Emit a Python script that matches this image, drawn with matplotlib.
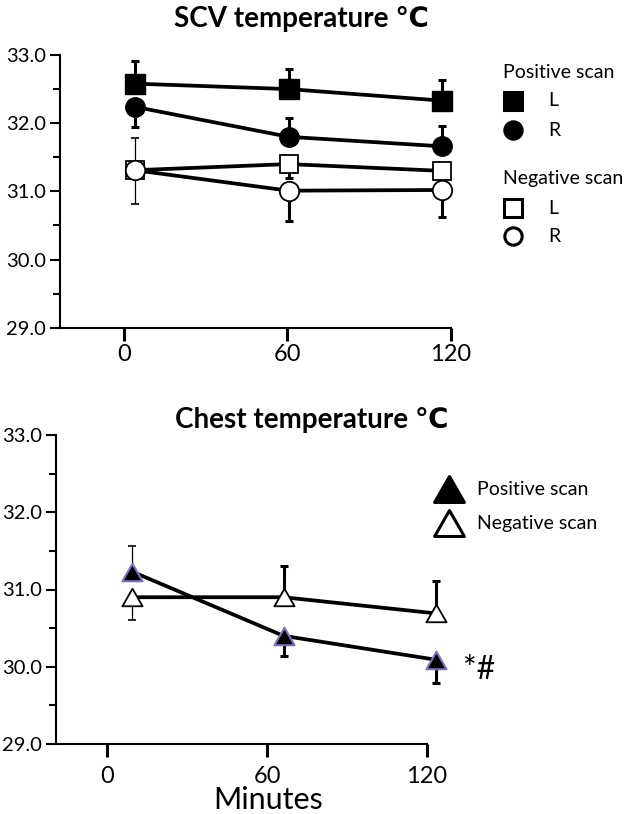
import numpy as np
import matplotlib
matplotlib.use('Agg')
import matplotlib.pyplot as plt
from matplotlib.lines import Line2D
from matplotlib.path import Path
from matplotlib.ticker import MultipleLocator, FormatStrFormatter

plt.rcParams['font.family'] = ['Lato', 'DejaVu Sans']

# ---- data ----
minutes_top = [4, 60.5, 117]
scv_pos_L = [32.58, 32.50, 32.33]
scv_pos_R = [32.24, 31.80, 31.66]
scv_neg_L = [31.31, 31.40, 31.30]
scv_neg_R = [31.31, 31.01, 31.02]
# error bars are one-sided in the original: (lower, upper)
scv_pos_L_err = [(0, 0.33), (0, 0.29), (0, 0.30)]
scv_pos_R_err = [(0.29, 0), (0, 0.27), (0, 0.30)]
scv_neg_L_err = [(0, 0.47), (0.20, 0), (0.15, 0)]
scv_neg_R_err = [(0.49, 0), (0.45, 0), (0.39, 0)]

minutes_bottom = [9.4, 66.2, 123.6]
chest_pos = [31.23, 30.40, 30.09]
chest_neg = [30.90, 30.90, 30.69]
chest_pos_err = [(0, 0.33), (0.26, 0), (0.30, 0)]
chest_neg_err = [(0.30, 0), (0, 0.41), (0, 0.42)]

time_ticks = [0, 60, 120]

W, H = 628, 814
fig = plt.figure(figsize=(W / 100, H / 100), dpi=100)


def fx(px):
    return px / W


def fy(py):
    return 1 - py / H


# closed, slightly flattened triangle like the Prism one
TRI = Path([(0, 1), (-1.15, -1), (1.15, -1), (0, 1)], closed=True)
PURPLE = '#7b72c0'


def style_axes(ax, xleft, xpad):
    ax.set_ylim(29, 33)
    ax.set_xlim(xleft, 120)
    for s in ('top', 'right'):
        ax.spines[s].set_visible(False)
    for s in ('left', 'bottom'):
        ax.spines[s].set_linewidth(1.5)
    ax.yaxis.set_major_locator(MultipleLocator(1))
    ax.yaxis.set_minor_locator(MultipleLocator(0.5))
    ax.yaxis.set_major_formatter(FormatStrFormatter('%.1f'))
    ax.set_xticks(time_ticks)
    ax.tick_params(axis='y', which='major', length=7.2, width=1.5, pad=3, labelsize=14.5)
    ax.tick_params(axis='y', which='minor', length=5, width=1.5)
    ax.tick_params(axis='x', which='major', length=9, width=2.2, pad=xpad, labelsize=17)


def draw_errs(ax, x, y, errs, thin_first=False):
    for i, (lo, hi) in enumerate(errs):
        thin = thin_first and i == 0
        ax.errorbar(x[i], y[i], yerr=[[lo], [hi]], fmt='none', ecolor='black',
                    elinewidth=0.9 if thin else 2.2, capsize=3,
                    capthick=1.2 if thin else 2.2, zorder=2, clip_on=False)


# ---- top panel: SCV temperature ----
ax1 = fig.add_axes([fx(60), fy(327.7), fx(450.6 - 60), (327.7 - 55) / H])
style_axes(ax1, -23.5, 3)

draw_errs(ax1, minutes_top, scv_pos_L, scv_pos_L_err)
draw_errs(ax1, minutes_top, scv_pos_R, scv_pos_R_err)
draw_errs(ax1, minutes_top, scv_neg_L, scv_neg_L_err, thin_first=True)
draw_errs(ax1, minutes_top, scv_neg_R, scv_neg_R_err, thin_first=True)

line_kw = dict(color='black', lw=2.7, clip_on=False, zorder=3)
ax1.plot(minutes_top, scv_pos_L, marker='s', ms=14, mfc='black', mec='black', **line_kw)
ax1.plot(minutes_top, scv_pos_R, marker='o', ms=14, mfc='black', mec='black', **line_kw)
ax1.plot(minutes_top, scv_neg_L, marker='s', ms=13.5, mfc='white', mec='black', mew=1.3, **line_kw)
ax1.plot(minutes_top, scv_neg_R, marker='o', ms=14, mfc='white', mec='black', mew=1.3, **line_kw)

fig.text(fx(301), fy(27.3), 'SCV temperature \u2103', ha='center', va='baseline',
         fontsize=20, fontweight='bold')

# legend, top
leg_txt = dict(ha='left', va='center', fontsize=14)
fig.text(fx(502.7), fy(72.3), 'Positive scan', **leg_txt)
fig.text(fx(502.7), fy(178.3), 'Negative scan', **leg_txt)
for yy, mk, fc, lab in [(101, 's', 'black', 'L'), (130, 'o', 'black', 'R'),
                        (208.3, 's', 'white', 'L'), (236, 'o', 'white', 'R')]:
    fig.add_artist(Line2D([fx(512.5)], [fy(yy)], marker=mk, ms=12.5, mfc=fc,
                          mec='black', mew=2.2, ls='none', transform=fig.transFigure))
    fig.text(fx(548.3), fy(yy), lab, **leg_txt)

# ---- bottom panel: chest temperature ----
ax2 = fig.add_axes([fx(56), fy(744), fx(426.7 - 56), (744 - 435) / H])
style_axes(ax2, -19.3, 7)

draw_errs(ax2, minutes_bottom, chest_pos, chest_pos_err, thin_first=True)
draw_errs(ax2, minutes_bottom, chest_neg, chest_neg_err, thin_first=True)
ax2.plot(minutes_bottom, chest_neg, marker=TRI, ms=14.5, mfc='white', mec='black', mew=1.3, **line_kw)
ax2.plot(minutes_bottom, chest_pos, marker=TRI, ms=14.5, mfc='black', mec=PURPLE, mew=1.5, **line_kw)

fig.text(fx(463), fy(670), '*#', ha='left', va='center', fontsize=23)

fig.text(fx(312), fy(428.3), 'Chest temperature \u2103', ha='center', va='baseline',
         fontsize=20, fontweight='bold')
fig.text(fx(268), fy(809), 'Minutes', ha='center', va='baseline', fontsize=22)

# legend, bottom
for yy, fc, lab in [(489.5, 'black', 'Positive scan'), (523, 'white', 'Negative scan')]:
    fig.add_artist(Line2D([fx(448.7)], [fy(yy)], marker=TRI, ms=21.5, mfc=fc,
                          mec='black', mew=2.2, ls='none', transform=fig.transFigure))
    fig.text(fx(477.3), fy(yy), lab, **leg_txt)

fig.savefig('out.png', dpi=100)
